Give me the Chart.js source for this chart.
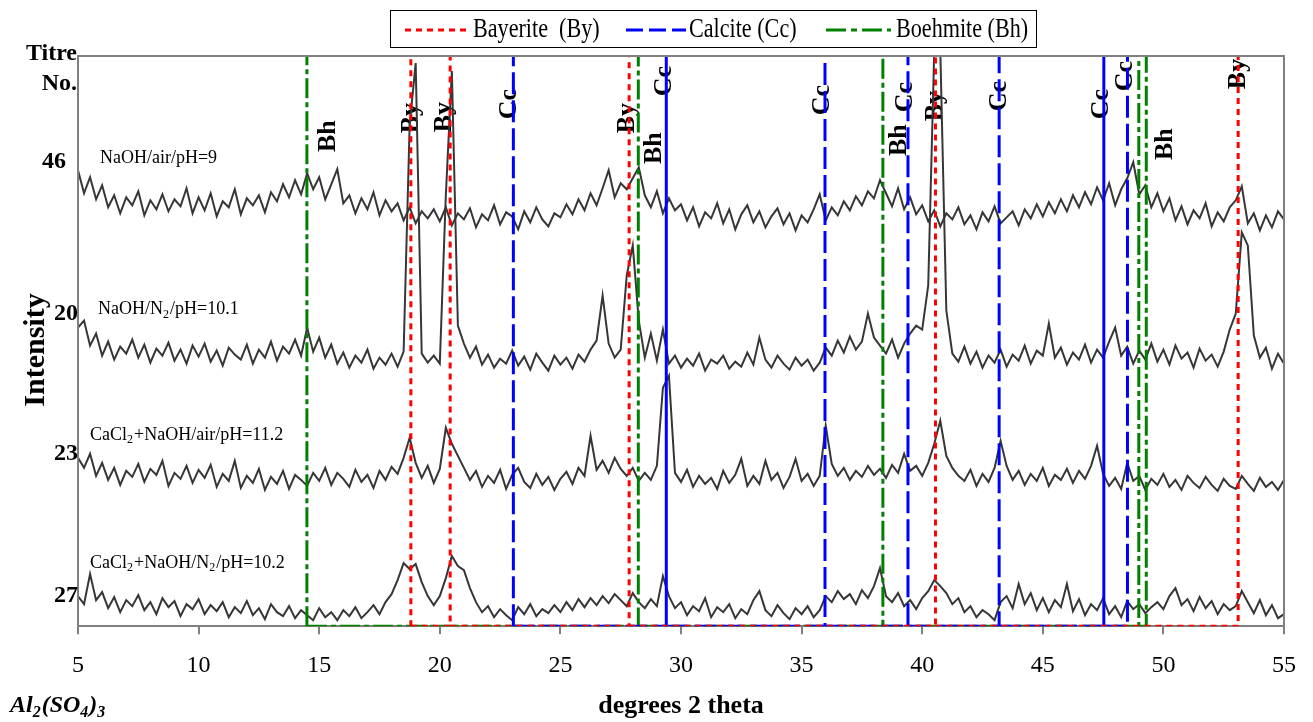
<!DOCTYPE html>
<html>
<head>
<meta charset="utf-8">
<script src="https://cdn.jsdelivr.net/npm/chart.js@4"></script>
<style>
  html, body { margin: 0; padding: 0; background: #fff; }
  canvas { display: block; }
</style>
</head>
<body>
<canvas id="xrd" width="1313" height="722"></canvas>
<script>
// XRD scans, offset intensities, one value every 0.25 deg from 5 to 55

const thetaStart = 5;
const thetaStep = 0.25;

// Titre 46 - NaOH/air/pH=9
const scanAir9 = [
  455,432,448,426,440,418,430,412,428,420,434,410,425,416,431,414,426,419,437,412,
  428,415,432,409,424,418,436,411,427,420,430,413,433,424,441,428,445,431,452,436,
  448,426,441,456,422,430,412,427,416,433,410,425,414,422,405,418,402,414,407,416,
  404,418,400,412,406,417,398,411,405,420,401,413,409,396,414,403,418,406,399,412,
  408,421,411,426,415,432,420,437,455,428,442,436,447,458,430,418,434,412,427,415,
  421,405,418,399,413,407,422,402,416,396,411,420,403,414,398,409,417,401,412,395,
  410,403,416,431,405,418,410,424,415,429,420,434,427,445,432,419,437,416,428,411,
  420,404,415,399,412,406,418,401,410,396,413,404,419,402,408,414,400,416,407,421,
  409,423,412,426,414,430,418,433,421,438,425,442,420,436,447,463,431,440,418,432,
  414,427,405,419,401,415,407,422,399,413,404,418,425,439,402,412,395,410,398,414,
  406
];

// Titre 20 - NaOH/N2/pH=10.1
const scanN2_101 = [
  298,305,280,292,270,284,266,279,272,286,268,281,263,277,270,283,265,276,262,280,
  269,282,264,275,260,278,271,266,281,262,276,268,284,265,279,272,286,270,298,274,
  288,268,281,262,273,258,270,263,276,257,268,261,272,259,274,500,562,272,263,270,
  262,430,554,300,282,268,279,261,271,258,267,262,275,260,269,256,272,263,255,270,
  261,268,257,271,264,276,285,330,282,268,276,350,380,305,268,292,265,296,262,270,
  258,267,260,272,255,266,262,270,257,264,259,273,261,288,266,258,270,262,256,268,
  260,266,255,263,278,270,285,273,289,276,284,312,288,280,272,286,268,282,292,300,
  296,340,575,575,315,272,264,279,262,274,258,270,263,276,259,271,265,280,262,275,
  270,302,268,278,261,273,266,281,263,276,268,284,298,270,279,262,275,266,282,264,
  276,261,280,267,273,258,277,265,271,259,274,296,312,393,380,290,268,278,257,272,
  262
];

// Titre 23 - CaCl2+NaOH/air/pH=11.2
const scanCaAir112 = [
  168,158,172,150,163,146,158,141,155,149,162,144,157,151,165,140,153,147,160,143,
  156,148,161,139,152,145,165,138,150,143,157,136,149,142,155,137,151,146,140,153,
  145,158,141,153,147,139,156,144,151,138,155,146,159,152,168,188,163,148,160,143,
  157,198,182,170,158,146,155,139,150,143,156,137,151,158,144,138,152,141,149,136,
  147,154,142,158,150,190,156,165,153,168,157,150,158,145,153,146,160,238,250,153,
  144,156,139,150,142,148,137,155,143,151,167,140,150,142,165,146,153,138,149,167,
  145,152,140,150,200,162,150,158,146,155,149,160,151,157,148,161,153,172,155,160,
  150,163,182,205,170,158,150,145,156,140,152,144,158,185,160,146,155,141,152,145,
  158,140,151,146,157,143,155,147,160,180,152,140,148,137,163,145,150,136,147,141,
  152,139,146,136,150,143,138,149,141,135,147,140,137,150,142,135,148,139,144,136,
  146
];

// Titre 27 - CaCl2+NaOH/N2/pH=10.2
const scanCaN2102 = [
  30,22,52,26,34,18,29,14,26,20,31,16,24,12,28,19,25,10,22,17,
  27,12,21,15,24,9,19,13,25,11,18,7,22,14,10,20,8,16,11,6,
  18,9,14,6,16,10,19,8,14,21,12,24,32,46,63,57,62,44,30,21,
  30,48,70,60,56,38,24,14,20,9,17,11,6,19,12,22,10,17,13,21,
  14,24,16,27,19,28,21,30,23,32,26,20,33,24,18,27,20,50,30,18,
  24,11,20,15,28,9,19,14,22,8,17,12,26,35,16,10,21,13,7,18,
  12,20,9,16,30,24,35,27,32,22,36,28,40,58,30,24,33,20,26,17,
  28,35,46,40,33,22,28,14,20,9,16,12,6,24,30,18,42,22,33,16,
  28,14,26,19,42,15,27,11,22,16,28,12,20,9,25,17,22,13,19,24,
  17,30,38,21,27,15,29,18,25,12,22,16,20,35,24,13,26,11,21,8,
  12
];

// reference line positions (deg 2 theta)
const bayeriteAt = [18.8, 20.43, 27.85, 40.55, 53.1];
const calciteAt = [23.05, 29.39, 35.97, 39.41, 43.19, 47.53, 48.51];
const calciteSolidAt = [29.39, 47.53];
const boehmiteAt = [14.49, 28.23, 38.37, 48.98, 49.29];

// phase labels written above the scans
const phaseText = ['Bh','By','By','Cc','By','Bh','Cc','Cc','Bh','Cc','By','Cc','Cc','Cc','Bh','By'];
const phaseAt = [15.39, 18.82, 20.19, 22.88, 27.77, 28.88, 29.30, 35.84, 39.06, 39.31, 40.55, 43.2, 47.43, 48.42, 50.07, 53.1];
const phaseLevel = [489, 507, 508, 521, 507, 477, 544, 525, 485, 528, 519, 529, 521, 549, 481, 551];

// titre numbers and sample names on the left
const titreNo = ['46', '20', '23', '27'];
const titreLevel = [463, 312, 172, 30];
const sampleName = [
  ['NaOH/air/pH=9'],
  ['NaOH/N', '_2', '/pH=10.1'],
  ['CaCl', '_2', '+NaOH/air/pH=11.2'],
  ['CaCl', '_2', '+NaOH/N', '_2', '/pH=10.2']
];
const sampleAt = [5.91, 5.83, 5.5, 5.5];
const sampleLevel = [467, 316, 191, 63];

const yMax = 569;

const twoTheta = scanAir9.map((_, i) => thetaStart + i * thetaStep);
function toPoints(vals) {
  return vals.map((v, i) => ({ x: twoTheta[i], y: v }));
}
function sticks(positions) {
  const pts = [];
  positions.forEach(p => pts.push({ x: p, y: 0 }, { x: p, y: yMax }, { x: p, y: 0 }));
  return pts;
}

const RED = '#ff0000', BLUE = '#0000ff', GREEN = '#008000', TRACE = '#363636';
const serif = '"Liberation Serif", "Times New Roman", serif';

// the way back down each stick is not drawn
const hideReturn = c => c.p0.parsed.y > c.p1.parsed.y ? 'rgba(0,0,0,0)' : undefined;

function stickSet(label, pts, color, dash, extraDash) {
  return {
    label: label,
    data: pts,
    borderColor: color,
    borderWidth: 3,
    borderDash: dash,
    pointRadius: 0,
    segment: {
      borderColor: hideReturn,
      borderDash: extraDash || (() => undefined)
    }
  };
}

function scanSet(label, vals) {
  return {
    label: label,
    data: toPoints(vals),
    borderColor: TRACE,
    borderWidth: 2,
    pointRadius: 0
  };
}

function drawRich(ctx, parts, x, y, size, style) {
  let cx = x;
  parts.forEach(p => {
    const sub = p.charAt(0) === '_';
    const t = sub ? p.slice(1) : p;
    const s = sub ? Math.round(size * 0.66) : size;
    ctx.font = style + ' ' + s + 'px ' + serif;
    ctx.fillText(t, cx, sub ? y + size * 0.28 : y);
    cx += ctx.measureText(t).width + (sub ? 1 : 0);
  });
}

const annotate = {
  id: 'annotate',
  beforeDatasetsDraw(chart) {
    const { ctx, scales: { x, y } } = chart;
    ctx.save();
    ctx.fillStyle = '#000';
    ctx.textAlign = 'center';
    ctx.textBaseline = 'middle';
    ctx.font = 'bold 26px ' + serif;
    phaseText.forEach((t, i) => {
      ctx.save();
      ctx.translate(x.getPixelForValue(phaseAt[i]), y.getPixelForValue(phaseLevel[i]));
      ctx.rotate(-Math.PI / 2);
      ctx.fillText(t, 0, 0);
      ctx.restore();
    });
    ctx.textAlign = 'left';
    sampleName.forEach((parts, i) => {
      drawRich(ctx, parts, x.getPixelForValue(sampleAt[i]), y.getPixelForValue(sampleLevel[i]), 18, 'normal');
    });
    ctx.restore();
  },
  afterDraw(chart) {
    const { ctx, chartArea: a, scales: { y } } = chart;
    ctx.save();
    // plot frame
    ctx.strokeStyle = '#808080';
    ctx.lineWidth = 2;
    ctx.beginPath();
    ctx.moveTo(a.left, a.bottom);
    ctx.lineTo(a.left, a.top);
    ctx.lineTo(a.right, a.top);
    ctx.lineTo(a.right, a.bottom);
    ctx.stroke();

    ctx.fillStyle = '#000';
    ctx.textBaseline = 'middle';
    ctx.textAlign = 'right';
    ctx.font = 'bold 24px ' + serif;
    ctx.fillText('Titre', a.left - 1, a.top - 2);
    ctx.fillText('No.', a.left - 1, a.top + 28);
    titreNo.forEach((t, i) => {
      ctx.fillText(t, a.left - (i === 0 ? 12 : 0), y.getPixelForValue(titreLevel[i]));
    });

    // axis titles
    ctx.textAlign = 'center';
    ctx.font = 'bold 26px ' + serif;
    ctx.fillText('degrees 2 theta', (a.left + a.right) / 2, 706);
    ctx.save();
    ctx.translate(36, 350);
    ctx.rotate(-Math.PI / 2);
    ctx.font = 'bold 30px ' + serif;
    ctx.fillText('Intensity', 0, 0);
    ctx.restore();
    ctx.textAlign = 'left';
    drawRich(ctx, ['Al', '_2', '(SO', '_4', ')', '_3'], 10, 706, 24, 'italic bold');

    // legend
    ctx.strokeStyle = '#000';
    ctx.lineWidth = 1;
    ctx.strokeRect(390.5, 10.5, 646, 37);
    const items = [
      { text: 'Bayerite  (By)', color: RED, dash: [6, 5], x0: 405, x1: 468, tx: 473 },
      { text: 'Calcite (Cc)', color: BLUE, dash: [17, 6], x0: 626, x1: 686, tx: 689 },
      { text: 'Boehmite (Bh)', color: GREEN, dash: [20, 5, 6, 5], x0: 826, x1: 891, tx: 896 }
    ];
    items.forEach(it => {
      ctx.strokeStyle = it.color;
      ctx.lineWidth = 3;
      ctx.setLineDash(it.dash);
      ctx.beginPath();
      ctx.moveTo(it.x0, 30);
      ctx.lineTo(it.x1, 30);
      ctx.stroke();
      ctx.setLineDash([]);
      ctx.save();
      ctx.translate(it.tx, 30);
      ctx.scale(0.82, 1);
      ctx.font = '27px ' + serif;
      ctx.fillText(it.text, 0, 0);
      ctx.restore();
    });
    ctx.restore();
  }
};

const calciteDash = c =>
  (c.p0.parsed.x === c.p1.parsed.x && calciteSolidAt.includes(c.p0.parsed.x)) ? [] : undefined;

new Chart(document.getElementById('xrd').getContext('2d'), {
  type: 'line',
  data: {
    datasets: [
      stickSet('Bayerite (By)', sticks(bayeriteAt), RED, [6, 5]),
      stickSet('Calcite (Cc)', sticks(calciteAt), BLUE, [22, 6], calciteDash),
      stickSet('Boehmite (Bh)', sticks(boehmiteAt), GREEN, [20, 4, 5, 4]),
      scanSet('46', scanAir9),
      scanSet('20', scanN2_101),
      scanSet('23', scanCaAir112),
      scanSet('27', scanCaN2102)
    ]
  },
  options: {
    responsive: false,
    animation: false,
    layout: { padding: { left: 78, top: 56, right: 27, bottom: 25 } },
    elements: { line: { tension: 0 } },
    plugins: { legend: { display: false }, tooltip: { enabled: false } },
    scales: {
      x: {
        type: 'linear',
        min: 5,
        max: 55,
        ticks: { stepSize: 5, color: '#000', padding: 17, font: { family: serif, size: 24 } },
        grid: { drawOnChartArea: false, drawTicks: true, tickLength: 8, color: '#808080', lineWidth: 2 },
        border: { color: '#808080', width: 2 }
      },
      y: { display: false, min: 0, max: yMax }
    }
  },
  plugins: [annotate]
});
</script>
</body>
</html>
